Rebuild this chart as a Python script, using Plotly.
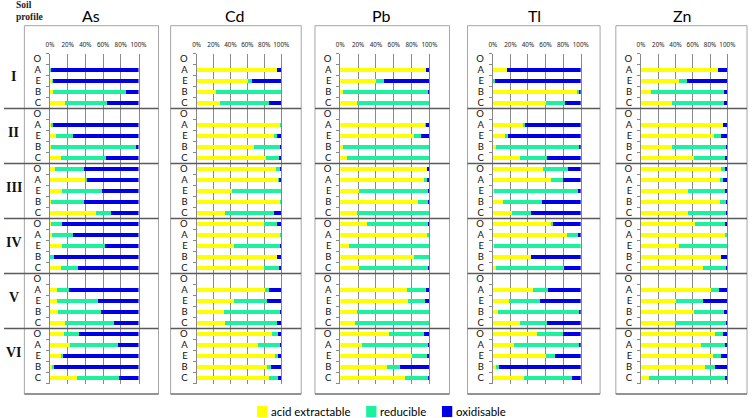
import plotly.graph_objects as go

W, H = 756, 418
N = None

metals = ["As", "Cd", "Pb", "Tl", "Zn"]
profiles = ["I", "II", "III", "IV", "V", "VI"]
horizons = ["O", "A", "E", "B", "C"]
fractions = ["acid extractable", "reducible", "oxidisable"]
tick_vals_pct = [0, 20, 40, 60, 80, 100]
tick_text_pct = ["0%", "20%", "40%", "60%", "80%", "100%"]

# values per row, top to bottom: profile I (O,A,E,B,C), II, ..., VI
as_acid = [N, 0, 3, 4, 17,   N, 1, 7, 1, 12,   6, 40, 14, 1, 52,   1, 2.5, 14, 0.5, 12.5,   N, 8, 8, 9.5, 17,   15.5, 23, 12, 3, 30]
as_red  = [N, 1.5, 0.5, 82, 47,   N, 3, 19, 96, 51,   33, 2, 45, 38, 17,   13, 23.5, 48, 4.5, 19.5,   N, 13.5, 46, 48.5, 55,   17, 54, 2.5, 2, 48.5]
as_ox   = [N, 98.5, 96.5, 14, 36,   N, 96, 74, 3, 37,   61, 58, 41, 61, 31,   86, 74, 38, 95, 68,   N, 78.5, 46, 42, 28,   67.5, 23, 85.5, 95, 21.5]

cd_acid = [N, 95, 61, 23.5, 27.5,   N, 99, 91, 68, 82.5,   93.5, 96, 42, 99, 34,   79.5, 98.5, 44.5, 95.5, 79.5,   N, 80.5, 44.5, 32.5, 34,   89, 73, 92.5, 83, 85.5]
cd_red  = [N, 0, 4, 76.5, 58,   N, 1, 4, 31, 14.5,   5.5, 2, 58, 1, 57.5,   16, 1.5, 54.5, 0, 17.5,   N, 4.5, 38.5, 66.5, 61,   7.5, 26, 4, 5.5, 11]
cd_ox   = [N, 5, 35, 0, 14.5,   N, 0, 5, 1, 3,   1, 2, 0, 0, 8.5,   4.5, 0, 1, 4.5, 3,   N, 15, 17, 1, 5,   3.5, 1, 3.5, 11.5, 3.5]

pb_acid = [N, 96.5, 40.5, 2.5, 19,   N, 96, 83, 3.5, 7.5,   98, 93.5, 20.5, 87.5, 19,   30, 97, 10, 83, 20.5,   N, 74.5, 76.5, 19, 17,   55, 24, 81, 52, 72.5]
pb_red  = [N, 0, 8.5, 96.5, 81,   N, 0.5, 7, 96.5, 92.5,   0, 4, 78.5, 11.5, 81,   69, 3, 90, 17, 78.5,   N, 22, 19, 81, 83,   38.5, 75, 17.5, 14.5, 26.5]
pb_ox   = [N, 3.5, 51, 1, 0,   N, 3.5, 10, 0, 0,   2, 2.5, 1, 1, 0,   1, 0, 0, 0, 1,   N, 3.5, 4.5, 0, 0,   6.5, 1, 1.5, 33.5, 1]

tl_acid = [N, 16, 1, 95.5, 60,   N, 35, 14, 3.5, 31,   57, 66.5, 1.5, 11.5, 21.5,   66.5, 84, 1, 43, 3.5,   N, 46, 18, 5.5, 31,   50, 24, 60, 3.5, 35]
tl_red  = [N, 0, 2, 2.5, 22,   N, 2, 3, 94.5, 30.5,   28.5, 13, 95, 44, 22.5,   1.5, 13, 99, 0, 78,   N, 17, 36, 92.5, 30.5,   30, 73.5, 11, 4, 55.5]
tl_ox   = [N, 84, 97, 2, 18,   N, 63, 83, 2, 38.5,   14.5, 20.5, 3.5, 44.5, 56,   32, 3, 0, 57, 18.5,   N, 37, 46, 2, 38.5,   20, 2.5, 29, 92.5, 9.5]

zn_acid = [N, 89.5, 44, 11, 36,   N, 95, 85, 36, 61,   93, 91, 55, 91, 55,   62, 97.5, 44.5, 93, 72,   N, 80.5, 40.5, 61, 39,   85.5, 69, 83, 74, 9.5]
zn_red  = [N, 0, 9, 85.5, 60.5,   N, 0, 8, 63, 36,   4, 4, 42, 8, 44,   35, 2.5, 55.5, 0, 27,   N, 10, 31, 35.5, 60,   9, 28, 10, 11.5, 87.5]
zn_ox   = [N, 10.5, 47, 3.5, 3.5,   N, 5, 7, 1, 3,   3, 5, 3, 1, 1,   3, 0, 0, 7, 1,   N, 9.5, 28.5, 3.5, 1,   5.5, 3, 7, 14.5, 3]

series = {
    "As": [as_acid, as_red, as_ox],
    "Cd": [cd_acid, cd_red, cd_ox],
    "Pb": [pb_acid, pb_red, pb_ox],
    "Tl": [tl_acid, tl_red, tl_ox],
    "Zn": [zn_acid, zn_red, zn_ox],
}

colors = ["#FFFF00", "#1CF29E", "#0000E6"]

# ---- layout geometry (pixels) ----
plot_x = [(46.7, 136.7), (195.7, 281.7), (341.7, 432.3), (496.7, 586.0), (647.3, 735.0)]
box_x = [(20.7, 157.0), (169.3, 302.0), (316.0, 452.7), (471.0, 605.7), (621.7, 755.0)]
box_top, box_bot = 25.7, 394.0
axis_top, axis_bot = 53.5, 383.5
title_x = [88, 235, 384, 539, 689]

def px(x):
    return x / W

def py(y):
    return 1 - y / H

rows = [g * 5 + h for g in range(len(profiles)) for h in range(len(horizons))]
row_text = [horizons[h] for g in range(len(profiles)) for h in range(len(horizons))]

fig = go.Figure()
for i, m in enumerate(metals):
    sx = "" if i == 0 else str(i + 1)
    for f, fr in enumerate(fractions):
        fig.add_trace(go.Bar(
            x=series[m][f], y=rows, orientation="h",
            marker=dict(color=colors[f], line=dict(width=0)),
            width=0.42, name=fr, showlegend=False,
            xaxis="x" + sx, yaxis="y" + sx,
        ))

layout = dict(
    width=W, height=H, barmode="stack",
    margin=dict(l=0, r=0, t=0, b=0),
    paper_bgcolor="white", plot_bgcolor="white",
    font=dict(family="Lato, Noto Sans, sans-serif", color="#000"),
)
shapes = []
annotations = []
for i, m in enumerate(metals):
    sx = "" if i == 0 else str(i + 1)
    layout["xaxis" + sx] = dict(
        domain=[px(plot_x[i][0]), px(plot_x[i][1])], anchor="y" + sx,
        range=[0, 100], side="top", tickvals=tick_vals_pct, ticktext=tick_text_pct,
        tickfont=dict(size=6.3, family="Noto Sans, sans-serif", color="#222"),
        tickangle=0,
        showgrid=True, gridcolor="#8a8a8a", gridwidth=1, zeroline=False,
        showline=False, ticks="", ticklabelstandoff=4, fixedrange=True,
    )
    layout["yaxis" + sx] = dict(
        domain=[py(axis_bot), py(axis_top)], anchor="x" + sx,
        range=[29.5, -0.5], tickvals=rows, ticktext=row_text,
        tickfont=dict(size=9.5, family="Lato, sans-serif", color="#111"),
        showgrid=False, zeroline=False, showline=True, linecolor="#888",
        linewidth=1, mirror=True, ticks="", ticklabelstandoff=6,
        minor=dict(ticks="outside", ticklen=3, tickcolor="#888", tick0=-0.5, dtick=1, showgrid=False),
        fixedrange=True,
    )
    # panel box
    shapes.append(dict(type="rect", xref="paper", yref="paper",
                       x0=px(box_x[i][0]), x1=px(box_x[i][1]), y0=py(box_bot), y1=py(box_top),
                       line=dict(color="#a6a6a6", width=1), layer="below"))
    shapes.append(dict(type="line", xref="paper", yref="paper",
                       x0=px(box_x[i][0]), x1=px(box_x[i][1]), y0=py(box_bot), y1=py(box_bot),
                       line=dict(color="#555", width=1.2)))
    # group separators
    for g in range(1, len(profiles)):
        shapes.append(dict(type="line", xref="paper", yref="y" + sx,
                           x0=0 if i == 0 else px(box_x[i][0]), x1=px(box_x[i][1]),
                           y0=g * 5 - 0.5, y1=g * 5 - 0.5,
                           line=dict(color="#5a5a5a", width=1.3)))
    # title
    annotations.append(dict(text=m, xref="paper", yref="paper", x=px(title_x[i]), y=py(15.5),
                            showarrow=False, xanchor="center", yanchor="middle",
                            font=dict(size=16, family="Lato, sans-serif", color="#000")))

# profile numerals
for g, p in enumerate(profiles):
    annotations.append(dict(text="<b>%s</b>" % p, xref="paper", yref="y", x=px(10), y=g * 5 + 2,
                            yshift=4, showarrow=False, xanchor="center", yanchor="middle",
                            font=dict(size=14, family="Liberation Serif, serif", color="#111")))

annotations.append(dict(text="<b>Soil<br>profile</b>", xref="paper", yref="paper", x=px(10), y=py(11),
                        showarrow=False, xanchor="left", yanchor="middle", align="left",
                        font=dict(size=9.5, family="Liberation Serif, serif", color="#222")))

# legend
leg_sq = [257, 368, 445]
for f, fr in enumerate(fractions):
    shapes.append(dict(type="rect", xref="paper", yref="paper",
                       x0=px(leg_sq[f]), x1=px(leg_sq[f] + 10.5), y0=py(417), y1=py(406),
                       fillcolor=colors[f], line=dict(width=0)))
    annotations.append(dict(text=fr, xref="paper", yref="paper", x=px(leg_sq[f] + 12.5), y=py(411.5),
                            showarrow=False, xanchor="left", yanchor="middle",
                            font=dict(size=11.5, family="Lato, sans-serif", color="#000")))

layout["shapes"] = shapes
layout["annotations"] = annotations
fig.update_layout(**layout)
fig.write_html("out.html", config={"displayModeBar": False},
               post_script="document.body.style.margin='0';document.body.style.overflow='hidden';")
